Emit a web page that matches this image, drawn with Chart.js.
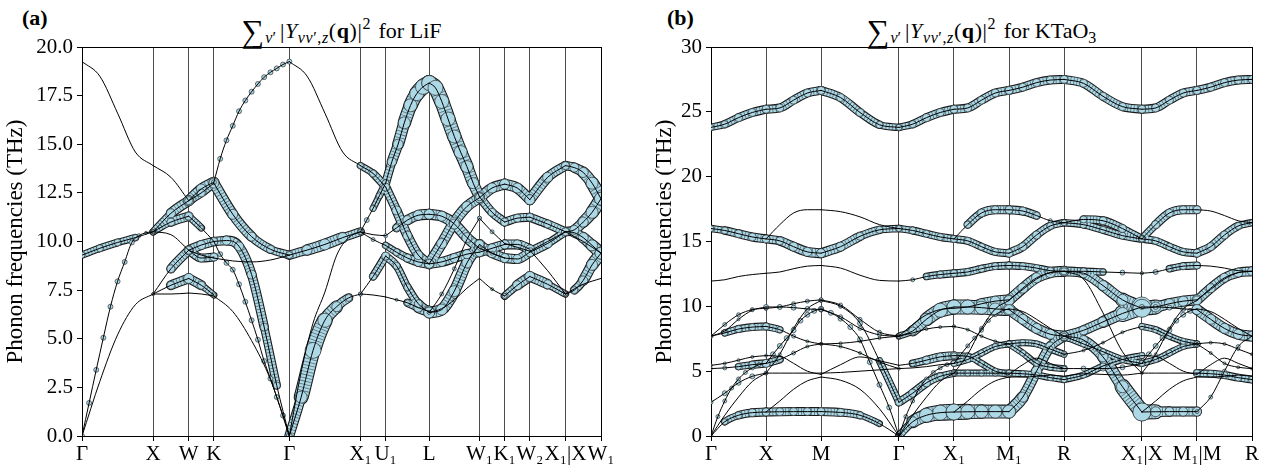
<!DOCTYPE html>
<html>
<head>
<meta charset="utf-8">
<title>Phonon bands LiF / KTaO3</title>
<script src="https://cdn.jsdelivr.net/npm/chart.js@4.4.1/dist/chart.umd.min.js"></script>
<style>
  html, body { margin: 0; padding: 0; background: #fff; }
  body { position: relative; width: 1276px; height: 470px; overflow: hidden;
         font-family: "Liberation Serif", serif; color: #000; }
  canvas { position: absolute; top: 0; }
  #lifChart { left: 0; }
  #ktoChart { left: 630px; }
  .panel { position: absolute; top: 7px; font-size: 22px; line-height: 22px; font-weight: bold; }
  .title { position: absolute; top: 19px; font-size: 22px; line-height: 24px; text-align: center; white-space: nowrap; }
  .title .sum { font-size: 32px; vertical-align: -4px; margin-right: 1px; }
  .title .math { letter-spacing: 0.6px; margin-left: 4px; margin-right: 2px; }
  .title sub, .title sup { font-size: 16px; line-height: 0; }
  .title sub { vertical-align: -5px; }
  .title sup { vertical-align: 9px; }
</style>
</head>
<body>
<div class="panel" style="left:22px">(a)</div>
<div class="panel" style="left:667px">(b)</div>
<div class="title" style="left:82px;width:519px"><span class="sum">∑</span><sub><i>ν</i>′</sub><span class="math">|<i>Y</i><sub><i>νν</i>′,<i>z</i></sub>(<b>q</b>)|<sup>2</sup></span> for LiF</div>
<div class="title" style="left:711px;width:541px"><span class="sum">∑</span><sub><i>ν</i>′</sub><span class="math">|<i>Y</i><sub><i>νν</i>′,<i>z</i></sub>(<b>q</b>)|<sup>2</sup></span> for KTaO<sub>3</sub></div>
<canvas id="lifChart" width="620" height="470"></canvas>
<canvas id="ktoChart" width="646" height="470"></canvas>
<script>
// ---------- LiF: k-path and bands (THz), one list per path segment ----------
const lifTicks = [0, 1, 1.5, 1.854, 2.914, 3.914, 4.268, 4.880, 5.587, 5.941, 6.295, 6.795, 7.295];
const lifLabels = ['Γ', 'X', 'W', 'K', 'Γ', 'X₁', 'U₁', 'L', 'W₁', 'K₁', 'W₂', 'X₁|X', 'W₁'];

// each curve is sampled evenly along its segment; *w = circle radius (px) per sample
const lifGX = [
  [0, 2.8, 5.2, 6.75, 7.3],
  [0, 1.7, 3.4, 5.05, 6.65, 7.95, 8.95, 9.95, 10.3, 10.45, 10.5],
  [9.3, 9.65, 9.95, 10.2, 10.5],
  [19.25, 18.5, 16.6, 14.6, 13.9],
];
const lifGXw = [[1], [2.5, 2.5, 2.5, 2.5, 2.5, 2.5, 2.5, 2.5, 2, 1.5, 1], [3, 3.5, 3.5, 3, 2], [1]];

const lifXW = [
  [7.3, 7.3, 7.35],
  [7.3, 7.75, 8.1],
  [7.3, 8.6, 9.55],
  [10.5, 10.35, 9.55],
  [10.5, 11.0, 11.3],
  [10.5, 11.45, 12.1],
  [13.9, 13.3, 12.1],
];
const lifXWw = [[1], [1.5, 4, 5], [1.5, 4, 4.5], [1], [2, 4, 4.5], [2, 4.5, 5], [1]];

const lifWK = [
  [7.35, 7.3, 7.2],
  [8.1, 7.75, 7.25],
  [9.55, 9.82, 10.0],
  [9.55, 9.15, 9.2],
  [9.55, 9.3, 9.15],
  [11.3, 10.7, 10.0],
  [12.1, 12.7, 13.05],
  [12.1, 12.5, 13.0],
];
const lifWKw = [[1], [5, 4, 2], [4.5, 4.5, 4], [4], [1], [4, 2.5, 2.5], [5], [4]];

const lifKG = [
  [7.2, 6.4, 4.9, 2.9, 0],
  [10.0, 9.35, 8.9, 8.55, 7.8, 6.9, 5.95, 4.95, 3.85, 2.95, 2.0, 1.05, 0],
  [10.0, 10.05, 9.75, 8.3, 5.6, 2.6, 0],
  [9.15, 9.0, 8.95, 9.05, 9.3],
  [13.0, 11.4, 10.25, 9.6, 9.3],
  [13.05, 14.25, 15.2, 15.95, 16.7, 17.25, 17.7, 18.1, 18.45, 18.7, 18.9, 19.1, 19.25],
];
const lifKGw = [[1], [2.5], [4, 4.5, 4.5, 4.5, 4, 3.5, 2], [1], [5, 5, 4.5, 4, 3.5], [2.5]];

const lifGX1 = [
  [0, 2.0, 4.4, 5.95, 6.65, 7.1, 7.3],
  [0, 3.3, 5.8, 7.4, 9.3, 10.2, 10.5],
  [9.3, 9.56, 9.85, 10.2, 10.5],
  [19.25, 18.5, 16.6, 14.6, 13.9],
];
const lifGX1w = [[3, 6, 8, 7, 5, 3.5, 2], [1], [3.5, 5, 5.5, 5, 3], [1]];

const lifX1U1 = [
  [7.3, 7.25, 7.15],
  [7.3, 8.2, 9.25],
  [10.5, 10.1, 9.8],
  [10.5, 11.1, 11.7, 12.35, 13.0],
  [10.5, 10.35, 10.3],
  [13.9, 13.5, 12.8],
];
const lifX1U1w = [[1], [2, 3.5, 4], [1.5, 2, 3], [2.5, 2.5, 3, 3, 3.5], [1], [3, 3.5, 4]];

const lifU1L = [
  [7.15, 7.0, 6.85, 6.6, 6.4],
  [9.25, 8.75, 7.65, 6.8, 6.35],
  [9.8, 9.45, 9.15, 8.95, 8.85],
  [13.0, 14.1, 15.0, 16.1, 17.0, 17.6, 17.95, 18.15],
  [10.3, 10.7, 11.1, 11.35, 11.4],
  [12.8, 11.6, 10.3, 9.3, 8.85],
];
const lifU1Lw = [[1, 1.5, 3, 4.5, 5.5], [4, 3.5, 3.5, 4, 5], [3, 3.5, 4, 4.5, 4.5], [3.5, 4.5, 5, 6, 6.5, 7, 7.5, 7.5], [2, 3.5, 4.5, 5, 5], [4, 4.5, 4.5, 4.5, 4.5]];

const lifLW1 = [
  [6.35, 6.55, 7.0, 7.6, 8.1],
  [6.35, 6.5, 7.45, 8.9, 9.85],
  [6.35, 7.3, 8.6, 10.1, 11.2],
  [8.85, 9.9, 11.0, 11.8, 12.25],
  [8.85, 8.95, 9.15, 9.35, 9.45],
  [11.4, 11.3, 10.9, 10.2, 9.65],
  [18.15, 17.9, 17.2, 16.3, 15.4, 14.6, 13.85, 13.0, 12.3],
];
const lifLW1w = [[5, 3, 1.5, 1, 1], [5.5, 5.5, 5.5, 5, 5], [2], [5], [4.5], [5], [7.5, 7.5, 7, 7, 6.5, 6.5, 6, 5.5, 5]];

const lifW1K1 = [
  [8.1, 7.55, 7.2],
  [9.85, 9.4, 9.15],
  [11.2, 10.5, 9.9],
  [12.25, 12.75, 12.95],
  [9.45, 9.65, 9.85],
  [9.65, 9.4, 9.15],
  [12.3, 11.5, 11.0],
];
const lifW1K1w = [[1, 1.5, 2.5], [4.5], [2], [5], [4.5], [2], [4]];

const lifK1W2 = [
  [7.2, 7.75, 8.2],
  [9.15, 9.1, 9.45],
  [9.85, 9.85, 9.6],
  [9.9, 9.7, 9.5],
  [12.95, 12.75, 12.15],
  [11.0, 11.2, 11.25],
];
const lifK1W2w = [[2.5, 4.5, 5], [4.5], [4.5], [1], [5], [4]];

const lifW2X1 = [
  [8.2, 7.8, 7.3],
  [9.45, 9.9, 10.5],
  [9.55, 8.5, 7.3],
  [9.5, 10.0, 10.5],
  [12.15, 13.3, 13.9],
  [11.25, 10.9, 10.5],
];
const lifW2X1w = [[5, 4.5, 2], [4.5, 4.5, 3], [1], [1], [5, 5, 4], [4]];

const lifXW1 = [
  [7.3, 7.8, 8.1],
  [7.3, 7.5, 8.0, 8.8, 9.4],
  [10.5, 10.45, 10.2, 9.8, 9.4],
  [10.5, 10.6, 11.0, 11.5, 12.2],
  [13.9, 13.8, 13.55, 13.0, 12.2],
  [10.5, 10.0, 9.4],
];
const lifXW1w = [[2, 1, 1], [2, 3.5, 4.5, 5.5, 6], [3, 4, 5, 5.5, 6], [4, 4.5, 5, 6, 6.5], [4, 4.5, 5, 6, 6.5], [1]];

const lifSegments = [
  [lifGX, lifGXw], [lifXW, lifXWw], [lifWK, lifWKw], [lifKG, lifKGw],
  [lifGX1, lifGX1w], [lifX1U1, lifX1U1w], [lifU1L, lifU1Lw], [lifLW1, lifLW1w],
  [lifW1K1, lifW1K1w], [lifK1W2, lifK1W2w], [lifW2X1, lifW2X1w], [lifXW1, lifXW1w],
];

// ---------- KTaO3 ----------
const ktoTicks = [0, 0.5, 1, 1.707, 2.207, 2.707, 3.207, 3.914, 4.414, 4.914];
const ktoLabels = ['Γ', 'X', 'M', 'Γ', 'X₁', 'M₁', 'R', 'X₁|X', 'M₁|M', 'R'];

// band values per kind of path (Γ→X, X→M, M→Γ, M→R, R→X), weights per actual segment
const ktoGX = [
  [0, 1.1, 1.6, 1.8, 1.85],
  [0, 1.5, 2.7, 3.7, 4.4, 4.9, 5.25, 5.5, 5.6],
  [2.6, 3.3, 4.1, 4.6, 4.85],
  [0, 1.6, 3.0, 4.2, 4.85],
  [5.45, 5.6, 5.85, 6.1, 6.2],
  [5.2, 5.25, 5.35, 5.5, 5.6],
  [7.7, 7.95, 8.25, 8.4, 8.45],
  [7.7, 8.6, 9.35, 9.75, 9.85],
  [7.7, 8.1, 9.0, 9.7, 9.95],
  [11.95, 12.05, 12.3, 12.45, 12.55],
  [16.0, 15.85, 15.6, 15.35, 15.2],
  [23.8, 24.05, 24.55, 24.95, 25.2],
];
const ktoGXw1 = [[1.5, 3, 3.5, 4, 4], [2], [2, 2.5, 2.5, 2.5, 2], [1], [1.5], [1.5, 2, 3, 3.5, 4], [2, 3, 3.5, 3.5, 3.5], [2], [1.5], [1], [3, 3.5, 4, 4, 4], [3, 3.5, 4, 4, 4]];
const ktoGXw2 = [[2, 5, 7, 7.5, 8], [2], [3.5, 4, 4, 3.5, 3], [1], [1, 3, 4, 4, 4], [1], [1.5], [1], [2, 4, 6, 7, 7], [1, 2, 3, 3.5, 3.5], [3, 3.5, 3.5, 3.5, 3.5], [3, 3.5, 4, 4, 4]];

const ktoXM = [
  [1.85, 1.87, 1.88, 1.88, 1.88],
  [1.85, 2.7, 3.6, 4.25, 4.55],
  [4.85, 4.85, 4.85, 4.85, 4.85],
  [4.85, 6.3, 8.3, 9.8, 10.45],
  [5.6, 6.3, 6.95, 7.55, 8.15, 8.9, 9.35, 9.65, 9.8],
  [6.2, 6.15, 5.6, 5.0, 4.75],
  [5.6, 5.9, 6.4, 6.9, 7.1],
  [8.45, 8.2, 7.7, 7.3, 7.1],
  [9.85, 9.95, 10.2, 10.4, 10.5],
  [9.95, 9.95, 9.9, 9.8, 9.75],
  [12.55, 12.65, 12.9, 13.1, 13.15],
  [15.2, 15.05, 14.6, 14.2, 14.1],
  [15.2, 16.3, 17.2, 17.45, 17.45],
  [25.2, 25.3, 25.9, 26.45, 26.65],
];
const ktoXMw1 = [[4], [1], [1], [1.5], [2.5], [1], [4, 3, 2, 1.5, 1.5], [3.5, 3, 2, 1.5, 1.5], [2], [2.5], [1], [4, 4, 4.5, 4.5, 4.5], [1], [4]];
const ktoXMw2 = [[8, 7, 6.5, 6.5, 6.5], [1], [3], [2], [2], [3], [3], [1.5], [1, 4, 5, 5, 5], [7, 7, 6.5, 6, 6], [3.5], [3.5], [1, 3.5, 4, 4, 4], [4]];
const ktoXMw3 = [[9, 5, 4.5, 4.5, 4.5], [1], [1], [1.5], [2.5], [1], [3], [3], [9, 5, 5, 5, 5], [2.5], [1.5, 2.5, 3, 3.5, 3.5], [3.5], [3, 4, 4, 4, 4], [4]];

const ktoMG = [
  [1.88, 1.82, 1.6, 0.95, 0],
  [4.55, 4.3, 3.6, 2.1, 0],
  [9.8, 9.5, 9.05, 8.4, 7.45, 5.7, 3.95, 2.2, 0],
  [10.45, 10.0, 8.7, 5.8, 2.6],
  [4.75, 5.5, 6.1, 5.8, 5.45],
  [7.1, 6.9, 6.4, 5.7, 5.2],
  [7.1, 7.15, 7.3, 7.55, 7.7],
  [10.5, 10.1, 9.0, 8.0, 7.7],
  [9.75, 9.2, 8.3, 7.8, 7.7],
  [4.85, 4.9, 5.0, 5.1, 5.2],
  [13.15, 12.95, 12.4, 12.0, 11.95],
  [14.1, 14.6, 15.4, 15.9, 16.0],
  [17.45, 17.3, 16.9, 16.3, 16.0],
  [26.65, 26.1, 24.95, 24.0, 23.8],
];
const ktoMGw = [[4, 4, 3.5, 2.5, 1], [1], [2.5], [2, 2, 2.5, 3, 3.5], [1], [1.5], [1.5], [2], [2], [1], [1], [4.5, 4.5, 4, 3.5, 3], [1], [4, 4, 4, 3.5, 3]];

const ktoMR = [
  [1.88, 3.0, 5.0, 6.9, 7.7],
  [4.55, 4.55, 4.6, 4.7, 4.6],
  [4.85, 4.8, 4.7, 4.5, 4.35],
  [10.45, 11.4, 12.2, 12.6, 12.7],
  [9.75, 9.0, 8.3, 7.85, 7.7],
  [7.1, 7.2, 7.1, 6.7, 6.3],
  [4.75, 5.5, 6.0, 5.6, 5.2],
  [7.1, 6.4, 5.6, 5.3, 5.2],
  [9.8, 9.6, 9.0, 8.3, 7.7],
  [10.5, 11.3, 12.1, 12.6, 12.7],
  [13.15, 13.1, 12.95, 12.75, 12.7],
  [14.1, 14.6, 15.5, 16.2, 16.45],
  [17.45, 17.35, 17.0, 16.6, 16.45],
  [26.65, 26.9, 27.25, 27.45, 27.5],
];
const ktoMRw1 = [[6.5, 5, 5, 4.5, 4.5], [1], [3], [5], [5], [3], [1], [3], [1], [1], [3.5], [4, 4, 4, 3.5, 3], [4, 4, 3.5, 2, 1], [4]];
const ktoMRw2 = [[2], [1], [3.5], [4.5], [5], [1.5], [1], [1.5], [1], [1], [1], [4, 4, 4, 3.5, 3], [1], [4]];

const ktoRX = [
  [7.7, 7.4, 6.1, 3.8, 1.85],
  [7.7, 8.15, 8.8, 9.45, 9.95],
  [12.7, 12.55, 11.6, 10.5, 9.85],
  [12.7, 12.1, 9.5, 6.5, 4.85],
  [4.6, 4.8, 4.75, 4.7, 4.85],
  [5.2, 5.2, 5.2, 5.3, 5.6],
  [6.3, 6.6, 7.2, 8.0, 8.45],
  [4.35, 4.7, 5.4, 5.9, 6.2],
  [7.7, 7.1, 6.5, 5.9, 5.6],
  [12.7, 12.7, 12.65, 12.6, 12.55],
  [16.45, 16.3, 15.9, 15.45, 15.2],
  [16.45, 16.7, 16.6, 16.0, 15.2],
  [27.5, 27.2, 26.2, 25.4, 25.2],
];
const ktoRXw = [[4.5, 4.5, 5, 6, 9], [4.5, 4.5, 5, 6, 10], [4.5, 4.5, 5, 5.5, 8], [1], [1], [2.5], [1.5], [3], [3], [3.5, 3.5, 3, 2.5, 1.5], [3, 3.5, 3.5, 3.5, 3.5], [1, 3.5, 4, 4, 3], [4]];

const ktoSegments = [
  [ktoGX, ktoGXw1], [ktoXM, ktoXMw1], [ktoMG, ktoMGw], [ktoGX, ktoGXw2], [ktoXM, ktoXMw2],
  [ktoMR, ktoMRw1], [ktoRX, ktoRXw], [ktoXM, ktoXMw3], [ktoMR, ktoMRw2],
];

// ---------- drawing ----------
const LIGHT_BLUE = '#add8e6';
const TUBE_MIN = 3;   // radius from which overlapping circles read as a tube

// the canvas only finds the serif face through the generic name
Chart.defaults.font.family = 'serif';
Chart.defaults.color = '#000';
const TICK_FONT = { family: 'serif', size: 21 };
const TITLE_FONT = { family: 'serif', size: 23 };

function buildPoints(ticks, segments) {
  const pts = [];
  segments.forEach(([curves, weights], i) => {
    const x0 = ticks[i], x1 = ticks[i + 1];
    curves.forEach((vals, j) => {
      const ws = weights[j];
      vals.forEach((v, k) => {
        pts.push({ x: x0 + (x1 - x0) * k / (vals.length - 1), y: v, w: ws.length > 1 ? ws[k] : ws[0] });
      });
      pts.push({ x: x1, y: null, w: 0 });   // break the line between curves
    });
  });
  return pts;
}

function bandDatasets(pts) {
  const segW = c => (pts[c.p0DataIndex].w + pts[c.p1DataIndex].w) / 2;
  const isTube = c => segW(c) >= TUBE_MIN;
  const common = {
    pointRadius: 0, fill: false, tension: 0.4, cubicInterpolationMode: 'monotone',
    spanGaps: false, borderCapStyle: 'round', borderJoinStyle: 'round',
  };
  return [
    { ...common, data: [...pts], borderColor: '#000', borderWidth: 1, order: 0 },
    {
      ...common, data: [...pts], showLine: false, order: 1,
      pointRadius: c => (c.raw && c.raw.w >= 1.5 ? c.raw.w : 0),
      pointBackgroundColor: LIGHT_BLUE, pointBorderColor: '#1a1a1a', pointBorderWidth: 0.6,
    },
    {
      // hatching: the rims of the densely packed circles
      ...common, data: [...pts], order: 2, borderCapStyle: 'butt', borderColor: 'transparent',
      segment: {
        borderWidth: c => Math.max(2 * segW(c) - 1.2, 1),
        borderDash: () => [0.8, 2.4],
        borderColor: c => (isTube(c) ? 'rgba(20,30,35,0.55)' : 'transparent'),
      },
    },
    {
      ...common, data: [...pts], order: 3, borderColor: LIGHT_BLUE,
      segment: {
        borderWidth: c => Math.max(2 * segW(c) - 1.2, 1),
        borderColor: c => (isTube(c) ? LIGHT_BLUE : 'transparent'),
      },
    },
    {
      ...common, data: [...pts], order: 4, borderColor: '#1a1a1a',
      segment: {
        borderWidth: c => 2 * segW(c) + 1,
        borderColor: c => (isTube(c) ? '#1a1a1a' : 'transparent'),
      },
    },
  ];
}

function makeChart(id, ticks, labels, segments, yMax, yStep, yDigits, yAxisWidth, titlePad, padRight) {
  const last = ticks.length - 1;
  return new Chart(document.getElementById(id), {
    type: 'line',
    data: { datasets: bandDatasets(buildPoints(ticks, segments)) },
    options: {
      responsive: false,
      animation: false,
      devicePixelRatio: 1,
      events: [],
      layout: { padding: { left: 0, right: padRight, top: 47, bottom: 0 } },
      plugins: { legend: { display: false }, tooltip: { enabled: false } },
      scales: {
        x: {
          type: 'linear', min: 0, max: ticks[last],
          afterBuildTicks: s => { s.ticks = ticks.map(v => ({ value: v })); },
          afterFit: s => { s.height = 34; },
          ticks: { autoSkip: false, maxRotation: 0, color: '#000', font: TICK_FONT, padding: 1, callback: (v, i) => labels[i] },
          grid: {
            color: c => (c.index === 0 || c.index === last ? '#000' : '#4d4d4d'),
            lineWidth: 1, tickLength: 5, tickColor: '#000',
          },
          border: { color: '#000', width: 1 },
        },
        y: {
          min: 0, max: yMax,
          afterFit: s => { s.width = yAxisWidth; },
          ticks: { stepSize: yStep, color: '#000', font: TICK_FONT, padding: 4, callback: v => v.toFixed(yDigits) },
          grid: {
            color: c => (c.tick && c.tick.value === yMax ? '#000' : 'transparent'),
            tickColor: '#000', tickLength: 5,
          },
          border: { color: '#000', width: 1 },
          title: { display: true, text: 'Phonon frequencies (THz)', color: '#000', font: TITLE_FONT, padding: { top: titlePad, bottom: 0 } },
        },
      },
    },
  });
}

makeChart('lifChart', lifTicks, lifLabels, lifSegments, 20, 2.5, 1, 82, 2, 19);
makeChart('ktoChart', ktoTicks, ktoLabels, ktoSegments, 30, 5, 0, 81, 21, 24);
</script>
</body>
</html>
